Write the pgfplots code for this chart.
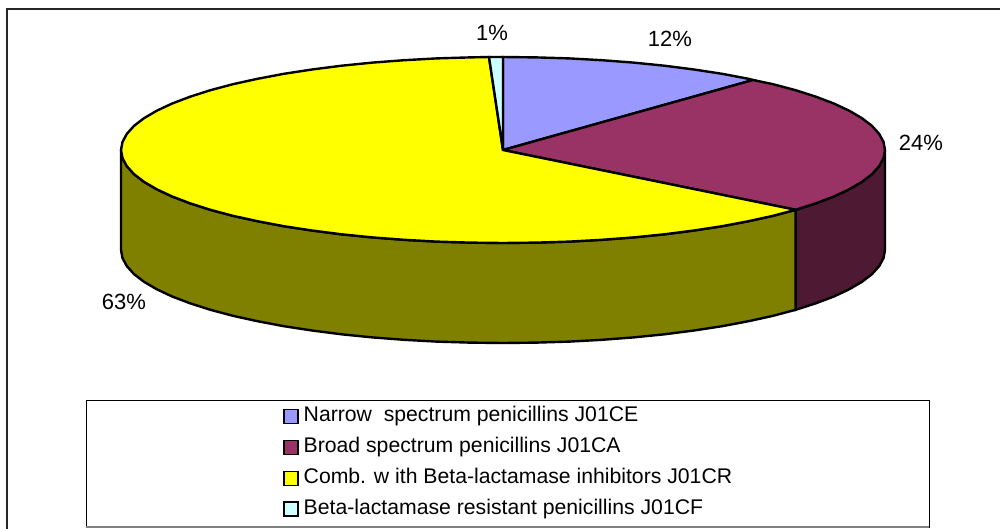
\documentclass[border=0pt]{standalone}
\usepackage{fontspec}
\setmainfont{Liberation Sans}
\usepackage{pgfplots}
\pgfplotsset{compat=1.18}

\definecolor{narrow}{HTML}{9999FF}
\definecolor{broad}{HTML}{993366}
\definecolor{broadside}{HTML}{4D1933}
\definecolor{comb}{HTML}{FFFF00}
\definecolor{combside}{HTML}{808000}
\definecolor{resist}{HTML}{CCFFFF}

\begin{document}
\begin{tikzpicture}
\useasboundingbox (0,0) rectangle (1000pt,528pt);
\begin{axis}[
	scale only axis,
	width=1000pt, height=528pt,
	xmin=0, xmax=1000,
	ymin=0, ymax=528,
	y dir=reverse,
	hide axis,
	legend style={
		at={(axis cs:283,404)}, anchor=north west,
		draw=none, fill=none,
		font=\fontsize{21.2}{23}\selectfont,
		row sep=10pt,
		column sep=3pt,
		inner sep=0pt,
		legend cell align=left,
	},
	legend image code/.code={
		\draw[#1, line width=1.5pt] (0pt,-9pt) rectangle (14pt,5pt);
	},
]
% outer frame
\addplot[forget plot, color=black!85, line width=2pt] coordinates {
	(7,535)(7,8.5)(1005,8.5)
};
% legend box
\addplot[forget plot, draw=black, fill=white, line width=1pt] coordinates {
	(86,400)(929,400)(929,527)(86,527)
} -- cycle;
\addplot[forget plot, color=black!50, line width=1.5pt] coordinates {
	(86,527)(929,527)
};
% sides
\addplot[forget plot, draw=black, fill=broadside, line width=2.4pt] coordinates {
	(885,150)(883.5,158.1)(879.2,166.1)(872,174.1)(862,181.8)(849.2,189.3)(833.8,196.5)(815.9,203.3)(795.6,209.8)
	(795.6,309.8)(815.9,303.3)(833.8,296.5)(849.2,289.3)(862,281.8)(872,274.1)(879.2,266.1)(883.5,258.1)(885,250)
} -- cycle;
\addplot[forget plot, draw=black, fill=combside, line width=2.4pt] coordinates {
	(795.6,209.8)(773.1,215.8)(748.5,221.2)(722.1,226.2)(694,230.5)(664.4,234.3)(633.6,237.4)(601.9,239.8)(569.3,241.6)(536.3,242.6)(503,243)
	(469.7,242.6)(436.7,241.6)(404.1,239.8)(372.4,237.4)(341.6,234.3)(312,230.5)(283.9,226.2)(257.5,221.2)(232.9,215.8)(210.4,209.8)
	(190.1,203.3)(172.2,196.5)(156.8,189.3)(144,181.8)(134,174.1)(126.8,166.1)(122.5,158.1)(121,150)
	(121,250)(122.5,258.1)(126.8,266.1)(134,274.1)(144,281.8)(156.8,289.3)(172.2,296.5)(190.1,303.3)
	(210.4,309.8)(232.9,315.8)(257.5,321.2)(283.9,326.2)(312,330.5)(341.6,334.3)(372.4,337.4)(404.1,339.8)(436.7,341.6)(469.7,342.6)
	(503,343)(536.3,342.6)(569.3,341.6)(601.9,339.8)(633.6,337.4)(664.4,334.3)(694,330.5)(722.1,326.2)(748.5,321.2)(773.1,315.8)(795.6,309.8)
} -- cycle;
% top faces
\addplot[draw=black, fill=narrow, line width=2.4pt] coordinates {
	(503,150)(503,57)(536.3,57.4)(569.3,58.4)(601.9,60.2)(633.6,62.6)(664.4,65.7)(694,69.5)(722.1,73.8)(748.5,78.8)(753,80)
} -- cycle;
\addlegendentry{Narrow\ \ spectrum penicillins J01CE}
\addplot[draw=black, fill=broad, line width=2.4pt] coordinates {
	(503,150)(753,80)(773.1,84.2)(795.6,90.2)(815.9,96.7)(833.8,103.5)(849.2,110.7)(862,118.2)(872,125.9)(879.2,133.9)(883.5,141.9)(885,150)
	(883.5,158.1)(879.2,166.1)(872,174.1)(862,181.8)(849.2,189.3)(833.8,196.5)(815.9,203.3)(795.6,209.8)
} -- cycle;
\addlegendentry{Broad spectrum penicillins J01CA}
\addplot[draw=black, fill=comb, line width=2.4pt] coordinates {
	(503,150)(795.6,209.8)(773.1,215.8)(748.5,221.2)(722.1,226.2)(694,230.5)(664.4,234.3)(633.6,237.4)(601.9,239.8)(569.3,241.6)(536.3,242.6)(503,243)
	(469.7,242.6)(436.7,241.6)(404.1,239.8)(372.4,237.4)(341.6,234.3)(312,230.5)(283.9,226.2)(257.5,221.2)(232.9,215.8)(210.4,209.8)
	(190.1,203.3)(172.2,196.5)(156.8,189.3)(144,181.8)(134,174.1)(126.8,166.1)(122.5,158.1)(121,150)
	(122.5,141.9)(126.8,133.9)(134,125.9)(144,118.2)(156.8,110.7)(172.2,103.5)(190.1,96.7)(210.4,90.2)(232.9,84.2)(257.5,78.8)
	(283.9,73.8)(312,69.5)(341.6,65.7)(372.4,62.6)(404.1,60.2)(436.7,58.4)(469.7,57.4)(489,57)
} -- cycle;
\addlegendentry{Comb. w ith Beta-lactamase inhibitors J01CR}
\addplot[draw=black, fill=resist, line width=2.4pt] coordinates {
	(503,150)(489,57)(503,57)
} -- cycle;
\addlegendentry{Beta-lactamase resistant penicillins J01CF}
% data labels
\node[font=\fontsize{22}{24}\selectfont] at (axis cs:492,33) {1\%};
\node[font=\fontsize{22}{24}\selectfont] at (axis cs:670,39) {12\%};
\node[font=\fontsize{22}{24}\selectfont] at (axis cs:921,143) {24\%};
\node[font=\fontsize{22}{24}\selectfont] at (axis cs:124,302) {63\%};
\end{axis}
\end{tikzpicture}
\end{document}
